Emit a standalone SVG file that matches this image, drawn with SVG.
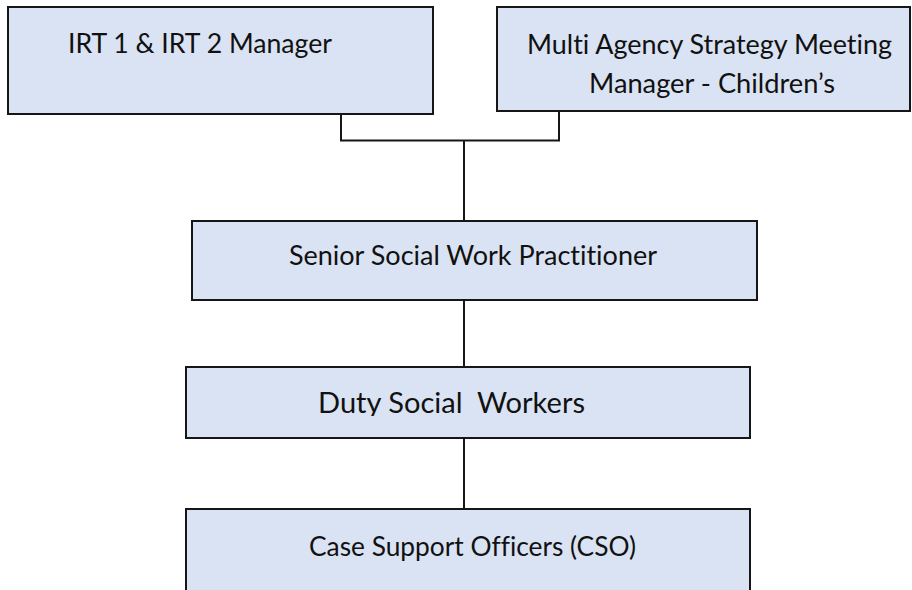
<svg xmlns="http://www.w3.org/2000/svg" width="912" height="590" viewBox="0 0 912 590">
  <style>
    .box { fill: #dae3f3; stroke: #161616; stroke-width: 2; }
    .lbl { font-family: Lato, "Open Sans", "Liberation Sans", sans-serif; font-size: 26px; fill: #111; font-variant-ligatures: none; font-feature-settings: "liga" 0, "clig" 0; }
    .big { font-size: 28.6px; }
    .wire { fill: none; stroke: #161616; stroke-width: 2; }
  </style>
  <defs>
    <clipPath id="dutyClip">
      <rect x="186" y="367" width="564" height="49"/>
    </clipPath>
  </defs>
  <rect width="912" height="590" fill="#ffffff"/>

  <!-- reporting lines -->
  <g id="connectors">
    <polyline class="wire" points="341,114 341,140.5 559,140.5 559,111"/>
    <line class="wire" x1="464" y1="140.5" x2="464" y2="221"/>
    <line class="wire" x1="464" y1="300" x2="464" y2="367"/>
    <line class="wire" x1="464" y1="438" x2="464" y2="509"/>
  </g>

  <g id="irt-manager">
    <rect class="box" x="8" y="7" width="425" height="107"/>
    <text class="lbl" x="68" y="53" textLength="264" lengthAdjust="spacingAndGlyphs">IRT 1 &amp; IRT 2 Manager</text>
  </g>

  <g id="masm-manager">
    <rect class="box" x="497" y="7" width="413" height="104"/>
    <text class="lbl" x="527" y="54" textLength="365" lengthAdjust="spacingAndGlyphs">Multi Agency Strategy Meeting</text>
    <text class="lbl" x="589" y="93" textLength="246" lengthAdjust="spacingAndGlyphs">Manager - Children’s</text>
  </g>

  <g id="senior-practitioner">
    <rect class="box" x="192" y="221" width="565" height="79"/>
    <text class="lbl" x="289" y="265" textLength="368" lengthAdjust="spacingAndGlyphs">Senior Social Work Practitioner</text>
  </g>

  <g id="duty-social-workers">
    <rect class="box" x="186" y="367" width="564" height="71"/>
    <text class="lbl big" x="318" y="413" textLength="267" lengthAdjust="spacingAndGlyphs" clip-path="url(#dutyClip)" xml:space="preserve">Duty Social  Workers</text>
  </g>

  <g id="case-support-officers">
    <rect class="box" x="186" y="509" width="564" height="100"/>
    <text class="lbl" x="309" y="556" textLength="327" lengthAdjust="spacingAndGlyphs">Case Support Officers (CSO)</text>
  </g>
</svg>
